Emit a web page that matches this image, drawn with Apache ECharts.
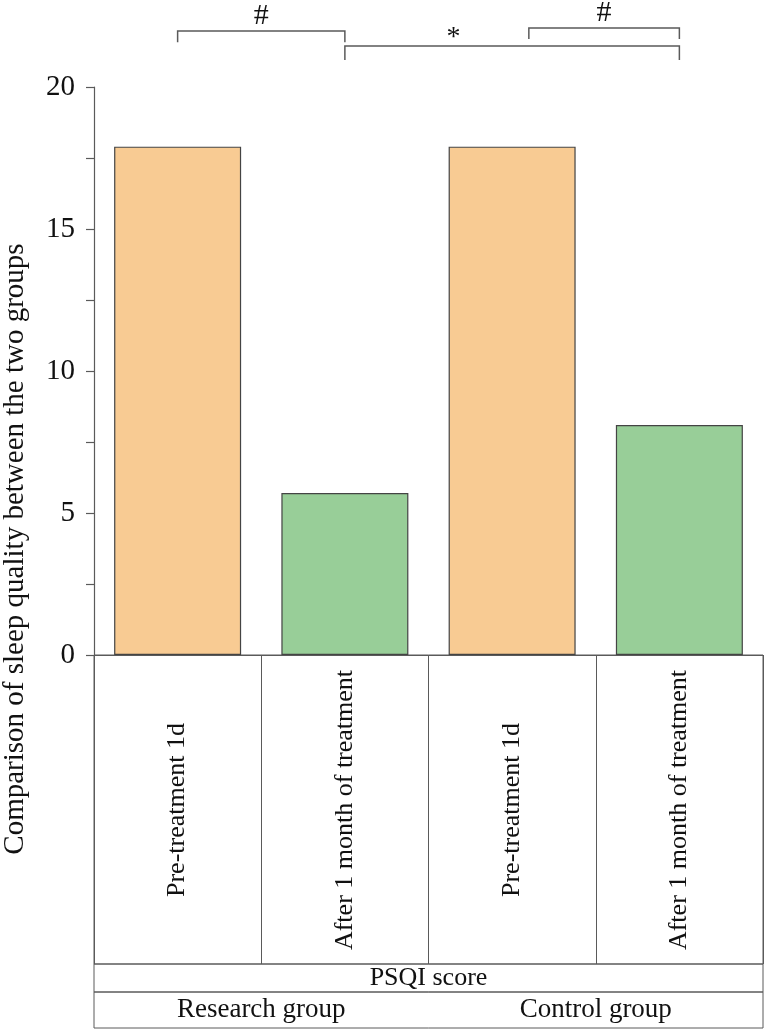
<!DOCTYPE html>
<html>
<head>
<meta charset="utf-8">
<script src="https://cdn.jsdelivr.net/npm/echarts@6/dist/echarts.min.js"></script>
<style>
  html, body { margin: 0; padding: 0; background: #fff; }
  #main { width: 768px; height: 1031px; }
</style>
</head>
<body>
<div id="main"></div>
<script>
// 数据
var categories = ['Pre-treatment 1d', 'After 1 month of treatment', 'Pre-treatment 1d', 'After 1 month of treatment'];
var psqiValues = [17.9, 5.7, 17.9, 8.1];
var barColors = ['#F8CB93', '#98CE98', '#F8CB93', '#98CE98'];
var rowLabels = ['PSQI score'];
var groupLabels = ['Research group', 'Control group'];
var yAxisTitle = 'Comparison of sleep quality between the two groups';
// 显著性标记：起止类别位置
var sigFrom = [0, 1, 2.1];
var sigTo = [1, 3, 3];
var sigMarks = ['#', '*', '#'];
var sigMarkAt = [0.5, 1.65, 2.55];

var FONT = 'Liberation Serif';
var LINE = '#5a5a5a';

var myChart = echarts.init(document.getElementById('main'));

// 括号的高度 (数据单位)
var levels = [21.97, 21.44, 22.08];
var drops = [21.58, 20.95, 21.69];

var option = {
    animation: false,
    backgroundColor: '#fff',
    grid: [
        { left: 94, right: 5, top: 87, height: 568 },
        { left: 94, right: 5, top: 655, height: 309, show: true, borderColor: LINE, borderWidth: 1 },
        { left: 94, right: 5, top: 964, height: 28, show: true, borderColor: LINE, borderWidth: 1 },
        { left: 94, right: 5, top: 992, height: 36, show: true, borderColor: LINE, borderWidth: 1 }
    ],
    xAxis: [
        {
            type: 'category', gridIndex: 0, data: categories,
            axisLine: { lineStyle: { color: LINE, width: 1.2 } },
            axisTick: { show: false },
            axisLabel: {
                rotate: 90, margin: 155, align: 'center', verticalAlign: 'middle',
                fontFamily: FONT, fontSize: 26, color: '#111', interval: 0
            }
        },
        {
            type: 'category', gridIndex: 1, data: categories,
            axisLine: { show: false }, axisTick: { show: false }, axisLabel: { show: false },
            splitLine: { show: true, interval: 0, lineStyle: { color: LINE, width: 1 } }
        },
        {
            type: 'category', gridIndex: 2, data: rowLabels, position: 'top',
            axisLine: { show: false }, axisTick: { show: false },
            axisLabel: { inside: true, margin: 14, verticalAlign: 'middle', fontFamily: FONT, fontSize: 26, color: '#111' }
        },
        {
            type: 'category', gridIndex: 3, data: groupLabels, position: 'top',
            axisLine: { show: false }, axisTick: { show: false },
            axisLabel: { inside: true, margin: 18, verticalAlign: 'middle', fontFamily: FONT, fontSize: 27, color: '#111', interval: 0 }
        }
    ],
    yAxis: [
        {
            type: 'value', gridIndex: 0, min: 0, max: 20, interval: 2.5,
            axisLine: { show: true, lineStyle: { color: LINE, width: 1.2 } },
            axisTick: { show: true, length: 8, lineStyle: { color: LINE, width: 1.2 } },
            splitLine: { show: false },
            axisLabel: {
                margin: 19, fontFamily: FONT, fontSize: 29, color: '#111',
                formatter: function (v) { return v % 5 === 0 ? String(v) : ''; }
            }
        },
        { type: 'value', gridIndex: 1, show: false },
        { type: 'value', gridIndex: 2, show: false },
        { type: 'value', gridIndex: 3, show: false }
    ],
    graphic: [
        {
            type: 'text', x: 15, y: 549, rotation: Math.PI / 2,
            style: {
                text: yAxisTitle, fontFamily: FONT, fontSize: 29, fill: '#111',
                align: 'center', verticalAlign: 'middle'
            }
        }
    ],
    series: [
        {
            type: 'bar', xAxisIndex: 0, yAxisIndex: 0,
            barWidth: 127,
            data: psqiValues.map(function (v, i) {
                return { value: v, itemStyle: { color: barColors[i] } };
            }),
            itemStyle: { borderColor: '#444', borderWidth: 1.2 }
        },
        {
            type: 'custom', xAxisIndex: 0, yAxisIndex: 0, clip: false, silent: true,
            data: sigMarks.map(function (m, i) { return [i, 0]; }),
            renderItem: function (params, api) {
                var i = params.dataIndex;
                var x0 = api.coord([0, 0])[0];
                var bw = api.size([1, 0])[0];
                function px(f) { return x0 + f * bw; }
                var yL = api.coord([0, levels[i]])[1];
                var yD = api.coord([0, drops[i]])[1];
                var x1 = px(sigFrom[i]), x2 = px(sigTo[i]);
                var isStar = sigMarks[i] === '*';
                return {
                    type: 'group',
                    children: [
                        {
                            type: 'polyline',
                            shape: { points: [[x1, yD], [x1, yL], [x2, yL], [x2, yD]] },
                            style: { stroke: LINE, lineWidth: 1.5, fill: null }
                        },
                        {
                            type: 'text',
                            x: px(sigMarkAt[i]),
                            y: yL - (isStar ? 8 : 15),
                            style: {
                                text: sigMarks[i], fontFamily: FONT, fontSize: isStar ? 28 : 30, fill: '#111',
                                align: 'center', verticalAlign: 'middle'
                            }
                        }
                    ]
                };
            }
        }
    ]
};
myChart.setOption(option);
</script>
</body>
</html>
